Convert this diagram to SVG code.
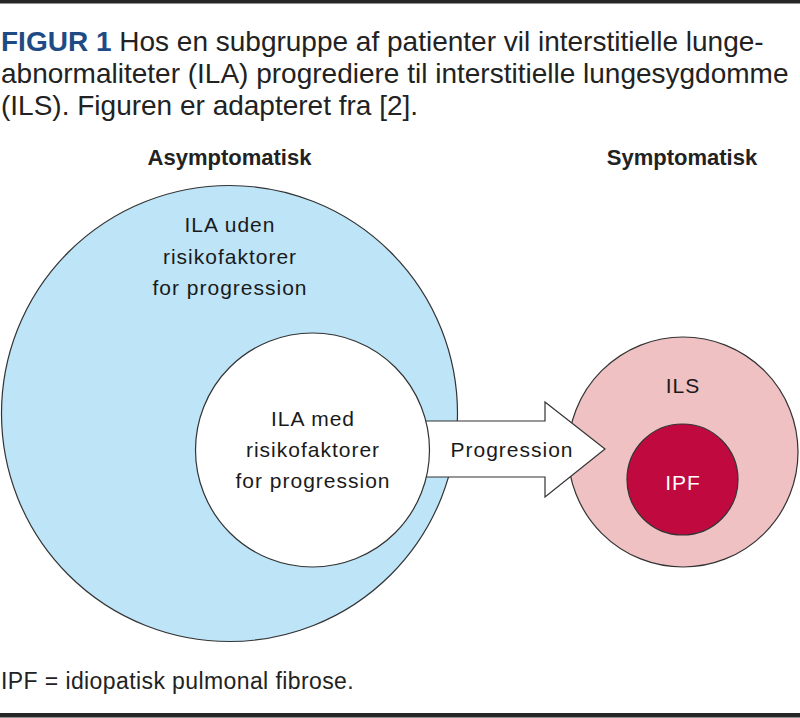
<svg xmlns="http://www.w3.org/2000/svg" width="800" height="718" viewBox="0 0 800 718">
  <style>
    .title { font-family: "Liberation Sans", Arial, sans-serif; font-size: 28px; fill: #222; }
    .fig { font-weight: bold; fill: #1e4b85; }
    .head { font-family: "Liberation Sans", Arial, sans-serif; font-size: 22px; font-weight: bold; fill: #222; text-anchor: middle; }
    .lbl { font-family: "Liberation Sans", Arial, sans-serif; font-size: 21px; letter-spacing: 1px; fill: #1a1a1a; text-anchor: middle; }
    .foot { font-family: "Liberation Sans", Arial, sans-serif; font-size: 23px; letter-spacing: 0.4px; fill: #222; }
    .outline { stroke: #333; stroke-width: 1.2; }
    .rule { fill: #262626; }
  </style>
  <rect width="800" height="718" fill="#ffffff"/>
  <rect class="rule" x="0" y="0" width="800" height="3.5"/>
  <rect class="rule" x="0" y="713" width="800" height="4.5"/>

  <g id="caption">
    <text class="title" x="1" y="51"><tspan class="fig">FIGUR 1</tspan> Hos en subgruppe af patienter vil interstitielle lunge-</text>
    <text class="title" x="1" y="83">abnormaliteter (ILA) progrediere til interstitielle lungesygdomme</text>
    <text class="title" x="1" y="115">(ILS). Figuren er adapteret fra [2].</text>
  </g>

  <g id="headings">
    <text class="head" x="229.5" y="165">Asymptomatisk</text>
    <text class="head" x="682" y="165">Symptomatisk</text>
  </g>

  <g id="ila-uden">
    <circle class="outline" cx="229.5" cy="413.5" r="228" fill="#bee4f8"/>
    <text class="lbl" x="230" y="232">ILA uden</text>
    <text class="lbl" x="230" y="264">risikofaktorer</text>
    <text class="lbl" x="230" y="295">for progression</text>
  </g>

  <g id="ils">
    <circle class="outline" cx="683" cy="452" r="115" fill="#efc1c3"/>
    <text class="lbl" x="683" y="393">ILS</text>
  </g>

  <g id="ipf">
    <circle class="outline" cx="682.5" cy="479.5" r="55.5" fill="#c0093f"/>
    <text class="lbl" x="683" y="490" style="fill:#ffffff">IPF</text>
  </g>

  <g id="connectors">
    <polygon class="outline" points="400,421 545,421 545,402 605,449 545,497 545,477 400,477" fill="#ffffff"/>
    <text class="lbl" x="512" y="457">Progression</text>
  </g>

  <g id="ila-med">
    <circle class="outline" cx="312.5" cy="450" r="117" fill="#ffffff"/>
    <text class="lbl" x="313" y="425.5">ILA med</text>
    <text class="lbl" x="313" y="456.5">risikofaktorer</text>
    <text class="lbl" x="313" y="487.5">for progression</text>
  </g>

  <g id="footnote">
    <text class="foot" x="1" y="689">IPF = idiopatisk pulmonal fibrose.</text>
  </g>
</svg>
